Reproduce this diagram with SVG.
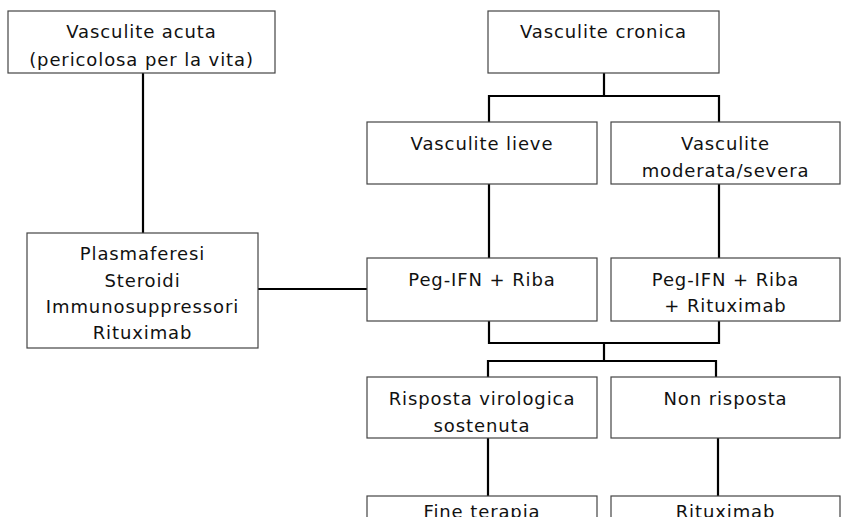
<svg xmlns="http://www.w3.org/2000/svg" width="841" height="517" viewBox="0 0 841 517">
<style>
.box{fill:#fff;stroke:#444;stroke-width:1.2}
.t{font-family:"DejaVu Sans","Noto Sans",sans-serif;font-size:18px;letter-spacing:0.9px;fill:#111;text-anchor:middle}
.c{fill:none;stroke:#000;stroke-width:2.2}
</style>
<rect width="841" height="517" fill="#fff"/>
<g id="connectors">
<path class="c" d="M143 73V233"/>
<path class="c" d="M258 289H367"/>
<path class="c" d="M604 73V96M489 122V96H719V122"/>
<path class="c" d="M489 184V258M719 184V258"/>
<path class="c" d="M489 321V343H719V321M604 343V361M488 377V361H716V377"/>
<path class="c" d="M488 438V496M718 438V496"/>
</g>
<g id="n_acuta"><rect class="box" x="8" y="11" width="267" height="62"/>
<text class="t" x="141.5" y="38">Vasculite acuta</text><text class="t" x="141.5" y="66">(pericolosa per la vita)</text></g>
<g id="n_cronica"><rect class="box" x="488" y="11" width="231" height="62"/>
<text class="t" x="603.5" y="38">Vasculite cronica</text></g>
<g id="n_lieve"><rect class="box" x="367" y="122" width="230" height="62"/>
<text class="t" x="482" y="150">Vasculite lieve</text></g>
<g id="n_moderata"><rect class="box" x="611" y="122" width="229" height="62"/>
<text class="t" x="725.5" y="150">Vasculite</text><text class="t" x="725.5" y="177">moderata/severa</text></g>
<g id="n_plasma"><rect class="box" x="27" y="233" width="231" height="115"/>
<text class="t" x="142.5" y="260">Plasmaferesi</text><text class="t" x="142.5" y="287">Steroidi</text><text class="t" x="142.5" y="313">Immunosuppressori</text><text class="t" x="142.5" y="339">Rituximab</text></g>
<g id="n_peg"><rect class="box" x="367" y="258" width="230" height="63"/>
<text class="t" x="482" y="286">Peg-IFN + Riba</text></g>
<g id="n_pegr"><rect class="box" x="611" y="258" width="229" height="63"/>
<text class="t" x="725.5" y="286">Peg-IFN + Riba</text><text class="t" x="725.5" y="312">+ Rituximab</text></g>
<g id="n_risposta"><rect class="box" x="367" y="377" width="230" height="61"/>
<text class="t" x="482" y="405">Risposta virologica</text><text class="t" x="482" y="432">sostenuta</text></g>
<g id="n_non"><rect class="box" x="611" y="377" width="229" height="61"/>
<text class="t" x="725.5" y="405">Non risposta</text></g>
<g id="n_fine"><rect class="box" x="367" y="496" width="230" height="40"/>
<text class="t" x="482" y="518">Fine terapia</text></g>
<g id="n_ritux"><rect class="box" x="611" y="496" width="229" height="40"/>
<text class="t" x="725.5" y="518">Rituximab</text></g>
</svg>
